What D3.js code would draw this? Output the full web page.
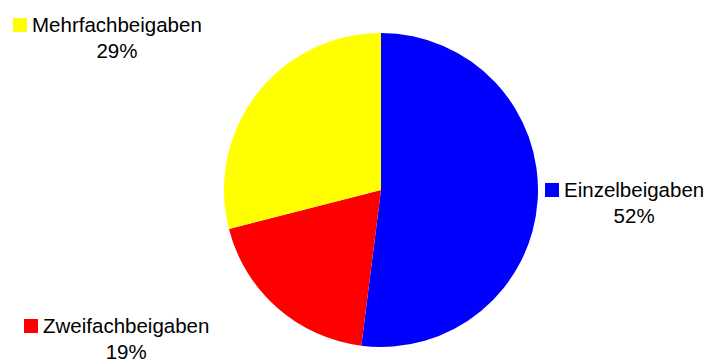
<!DOCTYPE html>
<html>
<head>
<meta charset="utf-8">
<script src="https://cdn.jsdelivr.net/npm/d3@7"></script>
<style>
  html, body { margin: 0; padding: 0; background: #fff; }
  svg { display: block; }
  text { font-family: "Liberation Sans", Arial, sans-serif; fill: #000; }
</style>
</head>
<body>
<svg id="chart" width="709" height="360"></svg>
<script>
// Anteile der Beigabenarten (in Prozent)
const categories = ["Einzelbeigaben", "Zweifachbeigaben", "Mehrfachbeigaben"];
const values = [52, 19, 29];
const colors = ["#0000ff", "#ff0000", "#ffff00"];

const width = 709, height = 360;
const cx = 381, cy = 190, radius = 157;

// Label-Positionen: linke Kante des Textes und Grundlinie der ersten Zeile
const labelLayout = [
  { x: 564, y: 197 },
  { x: 43,  y: 333 },
  { x: 32,  y: 32 }
];

const svg = d3.select("#chart");

const pie = d3.pie().sort(null).value(d => d.value);
const arc = d3.arc().innerRadius(0).outerRadius(radius);

const data = categories.map((c, i) => ({ name: c, value: values[i], color: colors[i] }));
const arcs = pie(data);

const g = svg.append("g").attr("transform", `translate(${cx},${cy})`);
g.selectAll("path")
  .data(arcs)
  .join("path")
  .attr("d", arc)
  .attr("fill", d => d.data.color);

const total = d3.sum(values);
const fontSize = 20.5;

arcs.forEach((a, i) => {
  const pos = labelLayout[i];
  const lg = svg.append("g");
  const t = lg.append("text")
    .attr("x", pos.x)
    .attr("y", pos.y)
    .attr("font-size", fontSize)
    .text(a.data.name);
  const w = t.node().getComputedTextLength();
  lg.append("rect")
    .attr("x", pos.x - 19)
    .attr("y", pos.y - 14)
    .attr("width", 14)
    .attr("height", 14)
    .attr("fill", a.data.color);
  lg.append("text")
    .attr("x", pos.x + w / 2)
    .attr("y", pos.y + 26)
    .attr("font-size", fontSize)
    .attr("text-anchor", "middle")
    .text(Math.round(a.data.value / total * 100) + "%");
});
</script>
</body>
</html>
